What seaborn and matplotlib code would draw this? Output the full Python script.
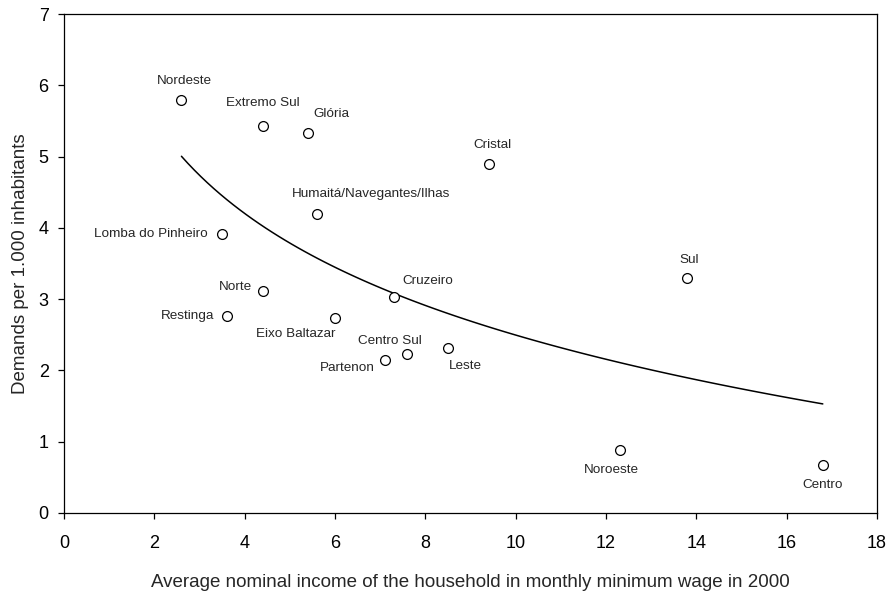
import pandas as pd
import matplotlib
matplotlib.use("Agg")
import matplotlib.pyplot as plt
import seaborn as sns

# districts, income (minimum wages) and demands per 1.000 inhabitants
districts = ["Nordeste", "Extremo Sul", "Glória", "Cristal", "Humaitá/Navegantes/Ilhas",
             "Lomba do Pinheiro", "Sul", "Norte", "Cruzeiro", "Restinga", "Eixo Baltazar",
             "Centro Sul", "Partenon", "Leste", "Noroeste", "Centro"]
income = [2.6, 4.4, 5.4, 9.4, 5.6, 3.5, 13.8, 4.4, 7.3, 3.6, 6.0, 7.6, 7.1, 8.5, 12.3, 16.8]
demands = [5.79, 5.43, 5.33, 4.90, 4.19, 3.92, 3.30, 3.11, 3.03, 2.76, 2.74, 2.23, 2.14, 2.31, 0.88, 0.68]

df = pd.DataFrame({"district": districts, "income": income, "demands": demands})

# label offsets in pixels (dx, dy up), horizontal alignment
label_pos = {
    "Nordeste": (3, 19, "center"),
    "Extremo Sul": (0, 23, "center"),
    "Glória": (23, 19, "center"),
    "Cristal": (4, 19, "center"),
    "Humaitá/Navegantes/Ilhas": (54, 20, "center"),
    "Lomba do Pinheiro": (-14, 0, "right"),
    "Sul": (2, 18, "center"),
    "Norte": (-11, 4, "right"),
    "Cruzeiro": (34, 16, "center"),
    "Restinga": (-12, 0, "right"),
    "Eixo Baltazar": (-39, -16, "center"),
    "Centro Sul": (-17, 13, "center"),
    "Partenon": (-37, -8, "center"),
    "Leste": (17, -18, "center"),
    "Noroeste": (-8, -20, "center"),
    "Centro": (0, -20, "center"),
}

sns.set_style("ticks")
plt.rcParams["font.family"] = ["Liberation Sans", "DejaVu Sans"]

fig = plt.figure(figsize=(8.89, 5.99), dpi=100)
ax = fig.add_axes([0.072, 0.1436, 0.9145, 0.833])

# logarithmic fit y ~ log(x), drawn over the data range
sns.regplot(data=df, x="income", y="demands", logx=True, ci=None, scatter=False,
            line_kws={"color": "black", "lw": 1.1}, ax=ax)
sns.scatterplot(data=df, x="income", y="demands", s=50, facecolor="white",
                edgecolor="black", linewidth=0.9, zorder=3, ax=ax)

px = 72 / 100
for _, r in df.iterrows():
    dx, dy, ha = label_pos[r["district"]]
    ax.annotate(r["district"], (r["income"], r["demands"]), xytext=(dx * px, dy * px),
                textcoords="offset points", ha=ha, va="center", fontsize=9.7)

ax.set_xlim(0, 18)
ax.set_ylim(0, 7)
ax.set_xticks(range(0, 19, 2))
ax.set_yticks(range(0, 8))
for s in ax.spines.values():
    s.set_linewidth(0.9)
    s.set_color("black")
ax.tick_params(direction="out", length=4, width=0.9, colors="black", labelsize=13)
ax.tick_params(axis="x", pad=12)
ax.tick_params(axis="y", pad=7)
ax.set_xlabel("Average nominal income of the household in monthly minimum wage in 2000",
              fontsize=13.5, labelpad=16)
ax.set_ylabel("Demands per 1.000 inhabitants", fontsize=13.5, labelpad=7)

fig.savefig("out.png", dpi=100)
